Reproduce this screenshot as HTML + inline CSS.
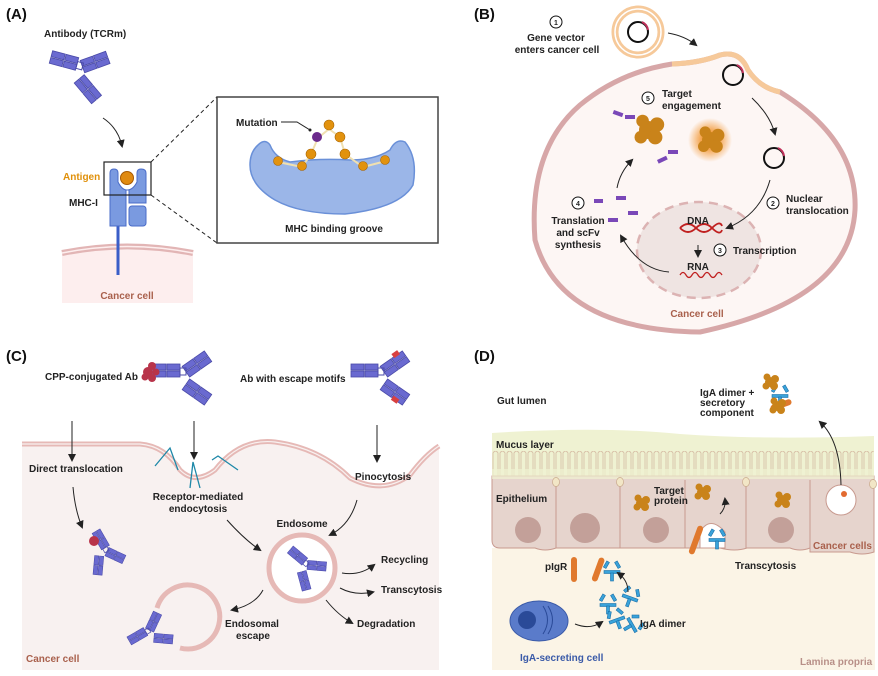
<!DOCTYPE html>
<html><head><meta charset="utf-8"><style>
body{margin:0;background:#fff}
svg{display:block}
text{font-family:"Liberation Sans",sans-serif;font-weight:bold;font-size:10px;fill:#222}
.h{font-size:15px;fill:#111}
.c{text-anchor:middle}
</style></head><body>
<svg width="878" height="676" viewBox="0 0 878 676" xmlns="http://www.w3.org/2000/svg">
<defs>
<marker id="ar" markerWidth="8" markerHeight="8" refX="6" refY="4" orient="auto" markerUnits="userSpaceOnUse"><path d="M0,0 L8,4 L0,8 Z" fill="#222"/></marker>
<g id="ab">
 <rect x="-30" y="-14" width="13" height="6" fill="#6a6ad0" stroke="#4a4aa8" stroke-width="0.8"/>
 <rect x="-16" y="-14" width="13" height="6" fill="#6a6ad0" stroke="#4a4aa8" stroke-width="0.8"/>
 <rect x="-30" y="-7" width="13" height="6" fill="#6a6ad0" stroke="#4a4aa8" stroke-width="0.8"/>
 <rect x="-16" y="-7" width="13" height="6" fill="#6a6ad0" stroke="#4a4aa8" stroke-width="0.8"/>
 <g transform="rotate(-35)"><rect x="6" y="-10" width="13" height="6" fill="#6a6ad0" stroke="#4a4aa8" stroke-width="0.8"/><rect x="20" y="-10" width="13" height="6" fill="#6a6ad0" stroke="#4a4aa8" stroke-width="0.8"/><rect x="6" y="-3" width="13" height="6" fill="#6a6ad0" stroke="#4a4aa8" stroke-width="0.8"/><rect x="20" y="-3" width="13" height="6" fill="#6a6ad0" stroke="#4a4aa8" stroke-width="0.8"/></g>
 <g transform="rotate(35)"><rect x="6" y="-3" width="13" height="6" fill="#6a6ad0" stroke="#4a4aa8" stroke-width="0.8"/><rect x="20" y="-3" width="13" height="6" fill="#6a6ad0" stroke="#4a4aa8" stroke-width="0.8"/><rect x="6" y="4" width="13" height="6" fill="#6a6ad0" stroke="#4a4aa8" stroke-width="0.8"/><rect x="20" y="4" width="13" height="6" fill="#6a6ad0" stroke="#4a4aa8" stroke-width="0.8"/></g>
 <rect x="-3" y="-10" width="6" height="7" fill="none" stroke="#4a4aa8" stroke-width="1"/>
</g>
<g id="iga" stroke="#1a6fa8" stroke-width="0.6" fill="#3aa3da">
 <rect x="-8" y="-1.5" width="16" height="3"/><rect x="-10" y="-7" width="3" height="7" transform="rotate(30)"/><rect x="7" y="-7" width="3" height="7" transform="rotate(-30)"/><rect x="-1.5" y="1" width="3" height="8"/>
</g>
<g id="prot" fill="#c9831a"><circle cx="0" cy="0" r="5"/><circle cx="5" cy="-3" r="4"/><circle cx="4" cy="4" r="4"/><circle cx="-4" cy="4" r="3.5"/><circle cx="-3" cy="-5" r="3.5"/></g>
<pattern id="mv" x="492" y="450" width="7" height="30" patternUnits="userSpaceOnUse"><path d="M1,30 L1,3 Q3.5,-1 6,3 L6,30" fill="none" stroke="#d8c1a8" stroke-width="0.9"/></pattern>
<radialGradient id="glow"><stop offset="0.4" stop-color="#f39a3a" stop-opacity="0.9"/><stop offset="1" stop-color="#f39a3a" stop-opacity="0"/></radialGradient>
</defs>

<!-- ===== A ===== -->
<text x="6" y="19" class="h">(A)</text>
<text x="44" y="37">Antibody (TCRm)</text>
<g transform="translate(78,72) rotate(15)"><use href="#ab"/></g>
<path d="M103,118 Q118,128 122,146" fill="none" stroke="#222" stroke-width="1" marker-end="url(#ar)"/>
<rect x="62" y="250" width="131" height="53" fill="#fdeeee"/>
<path d="M62,253 Q127,240 193,253" fill="none" stroke="#e2b5b5" stroke-width="6"/>
<path d="M62,253 Q127,240 193,253" fill="none" stroke="#fdeeee" stroke-width="1.5"/>
<line x1="118" y1="222" x2="118" y2="275" stroke="#3a5ec8" stroke-width="3"/>
<path d="M110,226 L110,173 Q110,169 114,169 Q118,169 118,173 L118,182 Q122,190 127,190 Q133,190 137,182 L137,173 Q137,169 141,169 Q146,169 146,173 L146,203 L129,203 L129,190 L126,190 L126,226 Z" fill="#7a9ae0" stroke="#4a6cc8" stroke-width="1"/>
<rect x="129" y="206" width="17" height="20" rx="3" fill="#7a9ae0" stroke="#4a6cc8" stroke-width="1"/>
<circle cx="127" cy="178" r="6.5" fill="#e08a10" stroke="#a85a00" stroke-width="1"/>
<rect x="104" y="162" width="47" height="33" fill="none" stroke="#222" stroke-width="1.2"/>
<text x="63" y="180" style="fill:#e0900a">Antigen</text>
<text x="69" y="206">MHC-I</text>
<text x="127" y="299" class="c" style="fill:#a9604c">Cancer cell</text>
<line x1="151" y1="162" x2="217" y2="97" stroke="#222" stroke-dasharray="4,3"/>
<line x1="151" y1="195" x2="217" y2="243" stroke="#222" stroke-dasharray="4,3"/>
<rect x="217" y="97" width="221" height="146" fill="#fff" stroke="#444" stroke-width="1.5"/>
<path d="M258,145 Q265,138 270,145 Q275,158 290,162 Q320,158 350,160 Q375,160 390,150 Q396,138 405,142 Q418,158 413,185 Q400,208 345,214 Q300,214 275,200 Q250,185 250,165 Q250,152 258,145 Z" fill="#9bb6e8" stroke="#6a90d8" stroke-width="1.5"/>
<path d="M278,162 L302,167 L311,154 L318,138 L329,129 L340,137 L345,154 L363,167 L386,161" fill="none" stroke="#f0e0b0" stroke-width="2"/>
<g fill="#e2920e" stroke="#a86400" stroke-width="0.6">
<circle cx="278" cy="161" r="4.5"/><circle cx="302" cy="166" r="4.5"/><circle cx="311" cy="154" r="5"/><circle cx="329" cy="125" r="5"/><circle cx="340" cy="137" r="5"/><circle cx="345" cy="154" r="5"/><circle cx="363" cy="166" r="4.5"/><circle cx="385" cy="160" r="4.5"/></g>
<circle cx="317" cy="137" r="5" fill="#6b2a8c"/>
<text x="236" y="126">Mutation</text>
<path d="M281,122 L297,122 L310,130" fill="none" stroke="#222" stroke-width="1"/><circle cx="310" cy="130" r="1.5" fill="#222"/>
<text x="334" y="232" class="c">MHC binding groove</text>

<!-- ===== B ===== -->
<text x="474" y="19" class="h">(B)</text>
<path d="M672,64 Q700,63 720,55 Q740,50 748,70 Q760,88 780,92 Q858,140 855,210 Q850,300 700,332 Q560,330 535,240 Q528,150 580,105 Q620,72 672,64 Z" fill="#fdf6f4" stroke="#d7a7a8" stroke-width="5"/>
<path d="M672,64 Q700,63 720,55 Q740,50 748,70 Q760,88 780,92" fill="none" stroke="#f6c99a" stroke-width="5"/>
<ellipse cx="699" cy="250" rx="62" ry="48" fill="#efe4e2" stroke="#dcb3b3" stroke-width="2.5" stroke-dasharray="9,6"/>
<circle cx="638" cy="32" r="23" fill="#fff" stroke="#f6c99a" stroke-width="7"/>
<circle cx="638" cy="32" r="23" fill="none" stroke="#fff" stroke-width="1.5"/>
<circle cx="638" cy="32" r="10" fill="none" stroke="#111" stroke-width="2"/>
<circle cx="733" cy="75" r="10" fill="none" stroke="#111" stroke-width="2"/>
<circle cx="774" cy="158" r="10" fill="none" stroke="#111" stroke-width="2"/>
<path d="M642,22 A10,10 0 0,1 648,30" fill="none" stroke="#c0305a" stroke-width="2"/>
<path d="M737,65 A10,10 0 0,1 743,73" fill="none" stroke="#c0305a" stroke-width="2"/>
<path d="M778,148 A10,10 0 0,1 784,156" fill="none" stroke="#c0305a" stroke-width="2"/>
<path d="M668,33 Q685,36 696,45" fill="none" stroke="#222" marker-end="url(#ar)"/>
<path d="M752,98 Q770,115 775,134" fill="none" stroke="#222" marker-end="url(#ar)"/>
<path d="M770,180 Q760,215 727,228" fill="none" stroke="#222" marker-end="url(#ar)"/>
<line x1="698" y1="245" x2="698" y2="256" stroke="#222" marker-end="url(#ar)"/>
<path d="M669,272 Q640,270 621,236" fill="none" stroke="#222" marker-end="url(#ar)"/>
<path d="M617,188 Q620,172 632,160" fill="none" stroke="#222" marker-end="url(#ar)"/>
<path d="M680,228 Q688,220 696,228 Q704,236 712,228 Q720,220 722,226" fill="none" stroke="#c02020" stroke-width="1.8"/>
<path d="M680,228 Q688,236 696,228 Q704,220 712,228 Q720,236 722,230" fill="none" stroke="#c02020" stroke-width="1.8"/>
<path d="M680,275 q3,-5 6,0 q3,5 6,0 q3,-5 6,0 q3,5 6,0 q3,-5 6,0 q3,5 6,0 q3,-5 6,0" fill="none" stroke="#c02020" stroke-width="1.3"/>
<circle cx="710" cy="140" r="22" fill="url(#glow)"/>
<g transform="translate(710,140) scale(1.6)"><use href="#prot"/></g>
<g transform="translate(648,130) scale(1.8)" fill="#a8772a"><use href="#prot"/></g>
<g fill="#7a48b8"><rect x="614" y="110" width="10" height="4" transform="rotate(20 614 110)"/><rect x="625" y="115" width="10" height="4"/><rect x="657" y="160" width="10" height="4" transform="rotate(-25 657 160)"/><rect x="668" y="150" width="10" height="4"/><rect x="594" y="199" width="9" height="4"/><rect x="616" y="196" width="10" height="4"/><rect x="608" y="218" width="10" height="4"/><rect x="628" y="211" width="10" height="4"/></g>
<g fill="#fff" stroke="#111" stroke-width="1">
<circle cx="556" cy="22" r="6"/><circle cx="773" cy="203" r="6"/><circle cx="720" cy="250" r="6"/><circle cx="578" cy="203" r="6"/><circle cx="648" cy="98" r="6"/></g>
<g style="font-size:7px" class="c"><text x="556" y="25" class="c" style="font-size:7px">1</text><text x="773" y="206" class="c" style="font-size:7px">2</text><text x="720" y="253" class="c" style="font-size:7px">3</text><text x="578" y="206" class="c" style="font-size:7px">4</text><text x="648" y="101" class="c" style="font-size:7px">5</text></g>
<text x="556" y="41" class="c">Gene vector</text><text x="557" y="53" class="c">enters cancer cell</text>
<text x="662" y="97">Target</text><text x="662" y="109">engagement</text>
<text x="786" y="202">Nuclear</text><text x="786" y="214">translocation</text>
<text x="733" y="254">Transcription</text>
<text x="698" y="224" class="c">DNA</text><text x="698" y="270" class="c">RNA</text>
<text x="578" y="224" class="c">Translation</text><text x="578" y="236" class="c">and scFv</text><text x="578" y="248" class="c">synthesis</text>
<text x="697" y="317" class="c" style="fill:#a9604c">Cancer cell</text>

<!-- ===== C ===== -->
<text x="6" y="361" class="h">(C)</text>
<path d="M22,444 L140,444 Q165,446 180,470 Q195,485 215,470 Q240,438 275,442 Q320,448 350,478 Q383,495 410,475 Q425,455 439,446 L439,670 L22,670 Z" fill="#f8f1f0"/>
<path d="M22,444 L140,444 Q165,446 180,470 Q195,485 215,470 Q240,438 275,442 Q320,448 350,478 Q383,495 410,475 Q425,455 439,446" fill="none" stroke="#e6b9b6" stroke-width="5"/>
<path d="M22,444 L140,444 Q165,446 180,470 Q195,485 215,470 Q240,438 275,442 Q320,448 350,478 Q383,495 410,475 Q425,455 439,446" fill="none" stroke="#f8f1f0" stroke-width="1.2"/>
<text x="45" y="380">CPP-conjugated Ab</text>
<text x="240" y="382">Ab with escape motifs</text>
<g transform="translate(183,378)"><use href="#ab"/></g>
<g fill="#b8344a"><circle cx="148" cy="372" r="5"/><circle cx="152" cy="366" r="4"/><circle cx="152" cy="378" r="4"/><circle cx="145" cy="377" r="3.5"/><circle cx="156" cy="372" r="3.5"/></g>
<g transform="translate(381,378)"><use href="#ab"/></g>
<rect x="392" y="352" width="7" height="5" fill="#d84040" transform="rotate(-35 395 354)"/><rect x="392" y="397" width="7" height="5" fill="#d84040" transform="rotate(35 395 399)"/>
<g stroke="#1e88a8" stroke-width="1.3" fill="none"><path d="M155,466 L170,448 L178,470"/><path d="M190,488 L193,462 L200,488"/><path d="M212,460 L218,456 L238,470"/></g>
<line x1="72" y1="421" x2="72" y2="460" stroke="#222" marker-end="url(#ar)"/>
<line x1="194" y1="421" x2="194" y2="458" stroke="#222" marker-end="url(#ar)"/>
<line x1="377" y1="425" x2="377" y2="461" stroke="#222" marker-end="url(#ar)"/>
<path d="M73,487 Q75,510 82,527" fill="none" stroke="#222" marker-end="url(#ar)"/>
<path d="M227,520 Q245,540 260,550" fill="none" stroke="#222" marker-end="url(#ar)"/>
<path d="M357,500 Q350,525 330,535" fill="none" stroke="#222" marker-end="url(#ar)"/>
<path d="M342,573 Q360,576 374,565" fill="none" stroke="#222" marker-end="url(#ar)"/>
<path d="M340,588 Q355,596 373,592" fill="none" stroke="#222" marker-end="url(#ar)"/>
<path d="M326,600 Q338,615 352,623" fill="none" stroke="#222" marker-end="url(#ar)"/>
<path d="M263,590 Q255,605 232,610" fill="none" stroke="#222" marker-end="url(#ar)"/>
<circle cx="302" cy="568" r="33" fill="#fff" stroke="#e6b9b6" stroke-width="5"/>
<path d="M157,608 A32,32 0 1,1 180,648" fill="none" stroke="#e6b9b6" stroke-width="5"/>
<g transform="translate(303,567) scale(0.7) rotate(40)"><use href="#ab"/></g>
<g transform="translate(102,552) scale(0.7) rotate(60)"><use href="#ab"/></g>
<circle cx="94" cy="541" r="5" fill="#b8344a"/>
<g transform="translate(150,635) scale(0.7) rotate(-30)"><use href="#ab"/></g>
<text x="29" y="472">Direct translocation</text>
<text x="198" y="500" class="c">Receptor-mediated</text><text x="198" y="512" class="c">endocytosis</text>
<text x="355" y="480">Pinocytosis</text>
<text x="302" y="527" class="c">Endosome</text>
<text x="381" y="563">Recycling</text><text x="381" y="593">Transcytosis</text><text x="357" y="627">Degradation</text>
<text x="252" y="627" class="c">Endosomal</text><text x="253" y="639" class="c">escape</text>
<text x="26" y="662" style="fill:#a9604c">Cancer cell</text>

<!-- ===== D ===== -->
<text x="474" y="361" class="h">(D)</text>
<rect x="492" y="548" width="383" height="122" fill="#fbf4e6"/>
<path d="M492,433 Q600,426 680,434 Q760,440 874,436 L874,484 L492,484 Z" fill="#eff2d2"/>
<rect x="492" y="451" width="382" height="26" fill="url(#mv)"/>
<path d="M492,476 L874,476 L874,552 Q862,556 850,552 L810,552 L810,548 Q800,552 790,548 L747,548 Q735,552 720,548 L556,548 Q545,552 535,548 L500,548 Q492,548 492,540 Z" fill="#e6d4cd" stroke="#c89a8f" stroke-width="1"/>
<rect x="492" y="469" width="382" height="10" fill="#eff2d2" opacity="0.7"/>
<g stroke="#c89a8f" stroke-width="1"><line x1="556" y1="480" x2="556" y2="548"/><line x1="620" y1="480" x2="620" y2="548"/><line x1="685" y1="480" x2="685" y2="548"/><line x1="746" y1="480" x2="746" y2="548"/><line x1="810" y1="480" x2="810" y2="552"/></g>
<g fill="#f2e6c6" stroke="#c8a98a" stroke-width="0.7"><ellipse cx="556" cy="482" rx="3.5" ry="4.5"/><ellipse cx="620" cy="482" rx="3.5" ry="4.5"/><ellipse cx="746" cy="482" rx="3.5" ry="4.5"/><ellipse cx="873" cy="484" rx="3.5" ry="4.5"/></g>
<g fill="#c3a099"><circle cx="528" cy="530" r="13"/><circle cx="585" cy="528" r="15"/><circle cx="656" cy="530" r="13"/><circle cx="781" cy="530" r="13"/></g>
<path d="M700,548 L700,532 Q710,515 725,532 L725,548 Z" fill="#fff" stroke="#c89a8f"/>
<circle cx="841" cy="500" r="15" fill="#fff" stroke="#c89a8f"/>
<circle cx="844" cy="494" r="3" fill="#e26a30"/>
<g fill="#e0792e"><rect x="571" y="557" width="6" height="25" rx="3"/><rect x="693" y="525" width="6" height="30" rx="3" transform="rotate(20 696 540)"/><rect x="595" y="557" width="6" height="25" rx="3" transform="rotate(20 598 570)"/><rect x="770" y="402" width="22" height="6" rx="3" transform="rotate(-20 781 405)"/></g>
<g transform="translate(612,572)"><use href="#iga"/></g><g transform="translate(717,540)"><use href="#iga"/></g>
<g transform="translate(608,605)"><use href="#iga"/></g><g transform="translate(630,598) rotate(20)"><use href="#iga"/></g><g transform="translate(617,620) rotate(-20)"><use href="#iga"/></g><g transform="translate(632,625) rotate(60)"><use href="#iga"/></g>
<g transform="translate(780,396)"><use href="#iga"/></g>
<g transform="translate(641,503)"><use href="#prot"/></g><g transform="translate(702,492)"><use href="#prot"/></g><g transform="translate(782,500)"><use href="#prot"/></g><g transform="translate(770,382)"><use href="#prot"/></g><g transform="translate(777,406)"><use href="#prot"/></g>
<ellipse cx="539" cy="621" rx="29" ry="20" fill="#5a7bca" stroke="#3a5aa8"/>
<circle cx="527" cy="620" r="9" fill="#2a4a98"/>
<path d="M543,606 Q552,620 543,634 M548,606 Q557,620 548,634" fill="none" stroke="#2a4a98"/>
<path d="M575,624 Q590,630 602,622" fill="none" stroke="#222" marker-end="url(#ar)"/>
<path d="M628,592 Q628,580 618,573" fill="none" stroke="#222" marker-end="url(#ar)"/>
<path d="M720,514 Q726,508 725,499" fill="none" stroke="#222" marker-end="url(#ar)"/>
<path d="M841,485 Q840,440 820,422" fill="none" stroke="#222" marker-end="url(#ar)"/>
<text x="497" y="404">Gut lumen</text>
<text x="700" y="396">IgA dimer +</text><text x="700" y="406">secretory</text><text x="700" y="416">component</text>
<text x="496" y="448">Mucus layer</text>
<text x="496" y="502">Epithelium</text>
<text x="654" y="494">Target</text><text x="654" y="504">protein</text>
<text x="545" y="570">pIgR</text>
<text x="735" y="569">Transcytosis</text>
<text x="640" y="627">IgA dimer</text>
<text x="520" y="661" style="fill:#3a5aa8">IgA-secreting cell</text>
<text x="800" y="665" style="fill:#b89088">Lamina propria</text>
<text x="813" y="549" style="fill:#a9604c">Cancer cells</text>
</svg>
</body></html>
